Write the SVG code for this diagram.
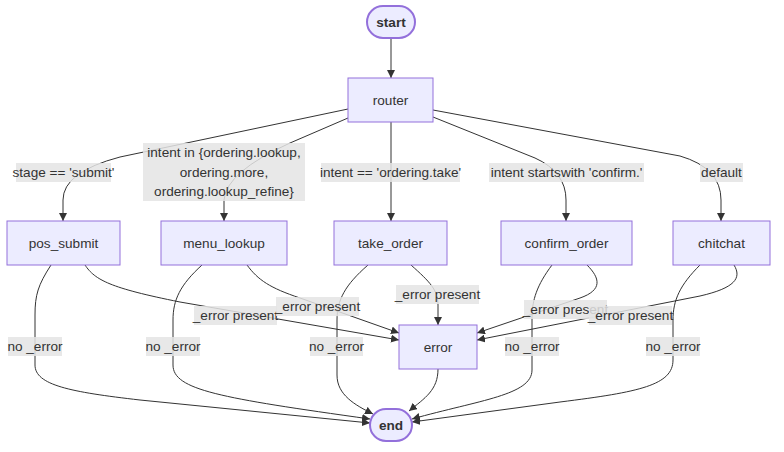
<svg xmlns="http://www.w3.org/2000/svg" width="784" height="452" viewBox="0 0 784 452">
<style>
.n{fill:#ECECFF;stroke:#9370DB;stroke-width:1}
.t{fill:#ECECFF;stroke:#9370DB;stroke-width:2}
.e{fill:none;stroke:#333;stroke-width:1;marker-end:url(#ah)}
.lb{fill:#e4e4e4;opacity:0.85}
text{font-family:"Liberation Sans",Arial,sans-serif;font-size:13.6px;fill:#333;text-anchor:middle}
.b{font-weight:bold}
</style>
<defs>
<marker id="ah" viewBox="0 0 10 10" refX="10" refY="5" markerWidth="8" markerHeight="8" markerUnits="userSpaceOnUse" orient="auto">
<path d="M0,0 L10,5 L0,10 z" fill="#333"/>
</marker>
</defs>
<rect width="784" height="452" fill="#fff"/>
<g id="edges">
<path class="e" d="M391,38 L391,78"/>
<path class="e" d="M348,109 L120,157 Q63,172 63,200 L63,221"/>
<path class="e" d="M348,118 L290,143 Q226,172 224,200 L224,221"/>
<path class="e" d="M391,122 L391,221"/>
<path class="e" d="M433,117 L535,158 Q566,172 566,200 L566,221"/>
<path class="e" d="M433,110 L680,156 Q721,168 721,200 L721,221"/>
<path class="e" d="M51,265 C38,285 35,295 35,315 L35,365 C35,385 70,392 140,400 L370,423"/>
<path class="e" d="M85,265 C95,280 110,288 180,302 L399,340"/>
<path class="e" d="M202,265 C180,285 173,300 173,320 L173,365 C173,390 220,398 370,419"/>
<path class="e" d="M247,265 C258,280 270,288 300,298 L399,333"/>
<path class="e" d="M368,265 C345,285 337,300 337,320 L337,375 C337,395 355,405 373,414"/>
<path class="e" d="M411,265 C430,282 438,290 438,305 L438,325"/>
<path class="e" d="M552,265 C537,285 532,300 532,318 L532,370 C532,395 480,400 412,419"/>
<path class="e" d="M587,265 C600,278 603,290 580,298 L477,333"/>
<path class="e" d="M700,265 C680,285 673,300 673,320 L673,360 C673,385 640,392 560,402 L412,422"/>
<path class="e" d="M734,265 C742,278 735,288 700,296 L477,340"/>
<path class="e" d="M438,369 C438,390 425,398 409,411"/>
</g>
<g id="edge-labels">
<rect class="lb" x="16" y="163" width="95" height="19"/><text x="63.5" y="177">stage == 'submit'</text>
<rect class="lb" x="143" y="143" width="162" height="58"/>
<text x="224" y="157">intent in {ordering.lookup,</text>
<text x="224" y="177">ordering.more,</text>
<text x="224" y="196">ordering.lookup_refine}</text>
<rect class="lb" x="321" y="163" width="139" height="19"/><text x="390.5" y="177">intent == 'ordering.take'</text>
<rect class="lb" x="489" y="163" width="155" height="19"/><text x="566.5" y="177">intent startswith 'confirm.'</text>
<rect class="lb" x="700" y="163" width="43" height="19"/><text x="721.5" y="177">default</text>
<rect class="lb" x="8" y="337" width="54" height="19"/><text x="35" y="351">no _error</text>
<rect class="lb" x="194" y="306" width="83" height="19"/><text x="235.5" y="320">_error present</text>
<rect class="lb" x="146" y="337" width="54" height="19"/><text x="173" y="351">no _error</text>
<rect class="lb" x="276" y="297" width="83" height="19"/><text x="317.5" y="311">_error present</text>
<rect class="lb" x="310" y="337" width="53" height="19"/><text x="336.5" y="351">no _error</text>
<rect class="lb" x="396" y="285" width="83" height="19"/><text x="437.5" y="299">_error present</text>
<rect class="lb" x="505" y="337" width="54" height="19"/><text x="532" y="351">no _error</text>
<rect class="lb" x="524" y="300" width="83" height="19"/><text x="565.5" y="314">_error present</text>
<rect class="lb" x="646" y="337" width="54" height="19"/><text x="673" y="351">no _error</text>
<rect class="lb" x="589" y="306" width="83" height="19"/><text x="630.5" y="320">_error present</text>
</g>
<g id="start"><rect class="t" x="367" y="6" width="48" height="32" rx="16"/><text class="b" x="391" y="27">start</text></g>
<g id="router"><rect class="n" x="348" y="78" width="85" height="44"/><text x="390.5" y="105">router</text></g>
<g id="pos_submit"><rect class="n" x="7" y="221" width="113" height="44"/><text x="63.5" y="248">pos_submit</text></g>
<g id="menu_lookup"><rect class="n" x="161" y="221" width="126" height="44"/><text x="224" y="248">menu_lookup</text></g>
<g id="take_order"><rect class="n" x="334" y="221" width="113" height="44"/><text x="390.5" y="248">take_order</text></g>
<g id="confirm_order"><rect class="n" x="501" y="221" width="131" height="44"/><text x="566.5" y="248">confirm_order</text></g>
<g id="chitchat"><rect class="n" x="673" y="221" width="97" height="44"/><text x="721.5" y="248">chitchat</text></g>
<g id="error"><rect class="n" x="399" y="325" width="78" height="44"/><text x="438" y="352">error</text></g>
<g id="end"><rect class="t" x="370" y="409" width="42" height="32" rx="16"/><text class="b" x="391" y="430">end</text></g>
</svg>
